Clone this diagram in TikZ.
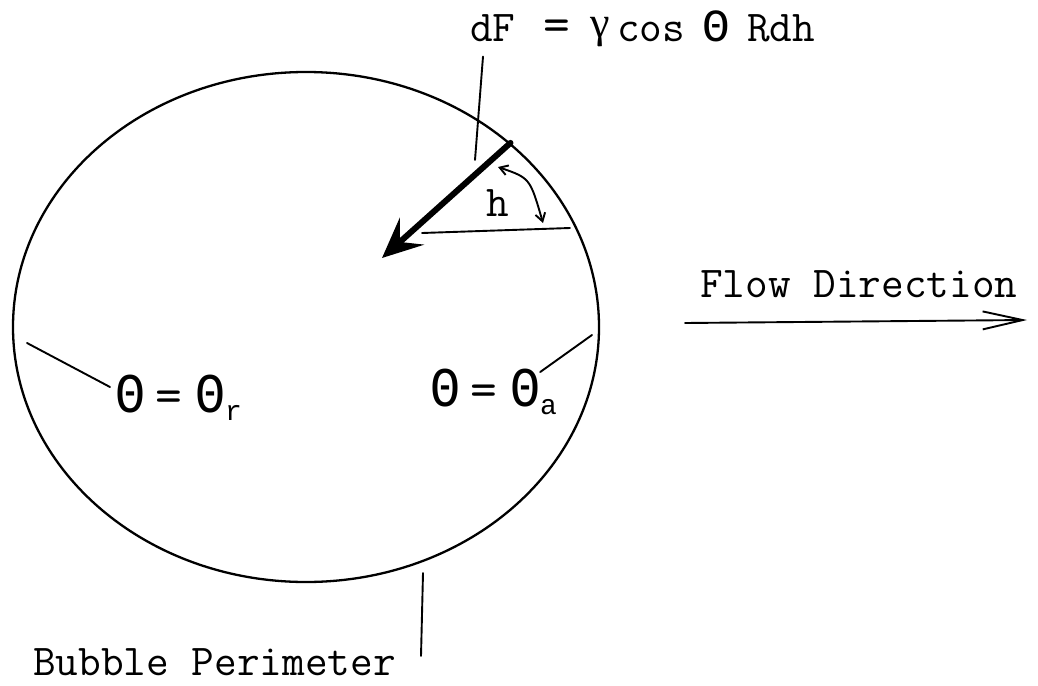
\documentclass[tikz,border=0pt]{standalone}
\usepackage{fontspec}
\newfontfamily\grkserif{Liberation Serif}
\newfontfamily\grkmono{Liberation Mono}
\usetikzlibrary{arrows.meta,shapes.geometric}
\newcommand\mybigth{\grkmono\fontsize{50}{50}\selectfont\scalebox{1}[1.12]{Θ}}
\newcommand\mymidth{\grkmono\fontsize{46}{46}\selectfont Θ}
\newcommand\mygam{{\grkserif\fontsize{44}{44}\selectfont\raisebox{5pt}{γ}}}
\newcommand\mysubf{\fontsize{28}{28}\selectfont}
\newcommand\myeq{{\fontsize{52}{52}\selectfont=}}
\begin{document}
\begin{tikzpicture}[x=1pt,y=-1pt, line cap=round, line join=round,
  outline/.style={line width=2.3pt},
  leader/.style={line width=1.9pt},
  lbl/.style={inner sep=0pt, font=\ttfamily\fontsize{44}{44}\selectfont}]
\useasboundingbox (0,0) rectangle (1038,685);
% bubble
\node[ellipse, draw, outline, minimum width=586pt, minimum height=510pt, inner sep=0pt] (bubble) at (306,327) {};
% force arrow
\coordinate (fstart) at (bubble.42.9);
\coordinate (ftip) at (382,258);
\draw[line width=6pt, -{Stealth[length=40pt,width=36pt,inset=16pt]}] (fstart) -- (ftip);
% horizontal reference line
\coordinate (hl) at (422,233);
\coordinate (hr) at (570,228);
\draw[leader] (hl) -- (hr);
% angle double arrow
\coordinate (aa) at (498,167);
\coordinate (ab) at (543,223);
\draw[leader, {Straight Barb[length=8pt,width=10pt]}-{Straight Barb[length=8pt,width=10pt]}] (aa) .. controls (530,178) .. (ab);
\node[lbl] (eta) at (498,203) {h};
% formula
\node[lbl, anchor=base west] (dF) at (470,42) {\makebox[73pt][l]{dF}\makebox[47pt][l]{\myeq}\makebox[27pt][l]{\mygam}\makebox[85pt][l]{cos}\makebox[45pt][l]{\mymidth}Rdh};
\coordinate (dFl) at (475,160);
\draw[leader] ([shift={(13,10)}]dF.south west) -- (dFl);
% theta r
\node[lbl, anchor=west] (thr) at (115,398) {\makebox[40pt][l]{\mybigth}\makebox[40pt][l]{\myeq}\mybigth\raisebox{-8pt}{\mysubf r}};
\coordinate (rl) at (27,343);
\draw[leader] (rl) -- ([shift={(-5,-11)}]thr.west);
% theta a
\node[lbl, anchor=west] (tha) at (430,392) {\makebox[40pt][l]{\mybigth}\makebox[40pt][l]{\myeq}\mybigth\raisebox{-8pt}{\mysubf a}};
\coordinate (al) at (592,335);
\draw[leader] ([shift={(-17,-20)}]tha.east) -- (al);
% flow direction
\node[lbl, anchor=base west] (flow) at (700,297) {Flow Direction};
\coordinate (fl0) at (685,323);
\coordinate (fl1) at (1027,320);
\draw[leader, -{Straight Barb[length=40pt,width=18pt]}] (fl0) -- (fl1);
% bubble perimeter
\node[lbl, anchor=base west] (bp) at (33,675) {Bubble Perimeter};
\coordinate (bpt) at (423,573);
\coordinate (bpb) at (421,656);
\draw[leader] (bpt) -- (bpb);
\end{tikzpicture}
\end{document}
